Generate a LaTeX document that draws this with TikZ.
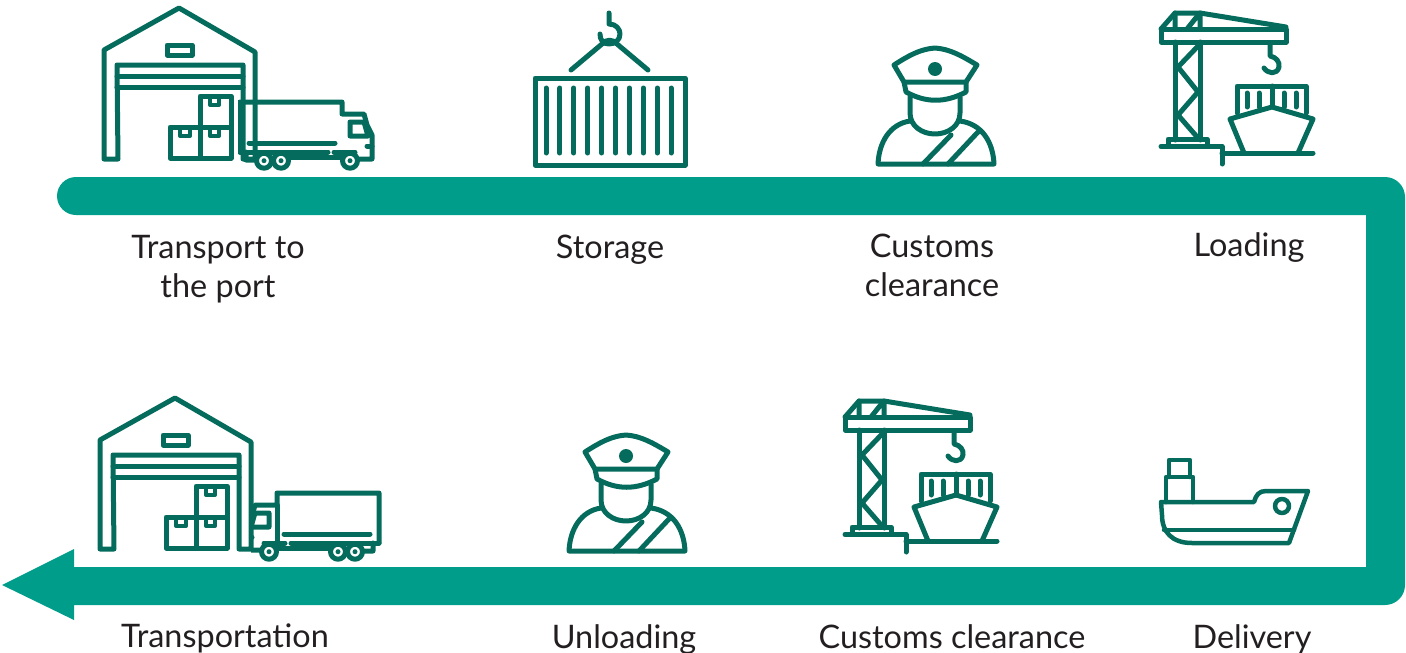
\documentclass[tikz,border=0pt]{standalone}
\usepackage{fontspec}
\setmainfont{Lato}
\definecolor{bandgreen}{HTML}{009E8A}
\definecolor{icongreen}{HTML}{056B5C}
\definecolor{labelgray}{HTML}{231F20}
\tikzset{
  label/.style={text=labelgray,font=\fontsize{32.4}{39}\selectfont,align=center,inner sep=0pt},
  icon/.style={draw=icongreen,line width=5pt,line join=round,line cap=round},
  housepic/.pic={
    \draw[icon] (118,159) -- (104,159) -- (104,50) -- (179,8) -- (255,52) -- (255,159) -- (243,159) -- (243,65) -- (117,65) -- cycle;
    \draw[icon] (117,76) -- (243,76) (117,87) -- (243,87);
    \draw[icon] (167,45) rectangle (192,55);
    \draw[icon] (170,127) rectangle (200,158);
    \draw[icon] (200,127) rectangle (231,158);
    \draw[icon] (200,96) rectangle (231,127);
    \draw[icon,line width=4pt] (180,127) -- (180,136) -- (190,136) -- (190,127);
    \draw[icon,line width=4pt] (210,127) -- (210,136) -- (219,136) -- (219,127);
    \draw[icon,line width=4pt] (210,96) -- (210,105) -- (219,105) -- (219,96);
  },
  truckpic/.pic={
    \draw[icon] (246,152) -- (246,160) -- (255,160) (240,152) -- (240,102) -- (342,102) -- (342,114) -- (364,114) -- (367,125) -- (372,135) -- (372,159) -- (360,159);
    \draw[icon] (350,122) -- (364,122) -- (368,136) -- (350,136) -- cycle;
    \draw[icon] (249,143) -- (335,143) (240,152) -- (328,152) (334,152) -- (355,152) (290,157) -- (342,157) (367,146) -- (372,146);
    \foreach \wheelx in {264,281,350} {
      \draw[icon] (\wheelx,160.7) circle [radius=7.5];
      \fill[icongreen] (\wheelx,160.7) circle [radius=2.5];
    }
  },
  containerpic/.pic={
    \draw[icon] (535,78) rectangle (685,165);
    \foreach \ribx in {0,...,9}
      \draw[icon] (546+13.9*\ribx,88) -- (546+13.9*\ribx,153);
    \draw[icon] (609,13) -- (609,24) .. controls (616,24) and (620,29) .. (620,34) .. controls (620,40) and (615,44) .. (609,44) .. controls (603,44) and (600,40) .. (600,34);
    \draw[icon] (571,70) -- (602,44) .. controls (606,39) and (613,39) .. (617,44) -- (648,70);
  },
  officerpic/.pic={
    \draw[icon] (894,65) .. controls (908,56) and (920,49) .. (935,48) .. controls (950,49) and (962,56) .. (977,65) -- (966,82) -- (904,82) -- cycle;
    \draw[icon] (904,82) -- (906,92) .. controls (926,103) and (945,103) .. (966,92) -- (966,82);
    \fill[icongreen] (935,69) circle [radius=7];
    \draw[icon] (910,97) -- (910,113) .. controls (910,126) and (922,134) .. (935,134) .. controls (948,134) and (960,126) .. (960,113) -- (960,97);
    \draw[icon] (910,121) .. controls (890,124) and (879,142) .. (878,164) -- (994,164) .. controls (993,142) and (982,124) .. (960,121);
    \draw[icon] (923,164) -- (951,135) (948,164) -- (978,132);
  },
  cranepic/.pic={
    \draw[icon] (1161,29) rectangle (1286,42);
    \draw[icon] (1161,29) -- (1175,13) -- (1200,13) -- (1286,27);
    \draw[icon] (1175,13) -- (1175,29) (1200,13) -- (1200,29) (1187,29) -- (1199,14);
    \draw[icon] (1175,42) -- (1175,140) (1200,42) -- (1200,140);
    \draw[icon] (1199,45) -- (1178,67) -- (1198,92) -- (1178,115) -- (1198,138);
    \draw[icon] (1168,146) -- (1168,139) -- (1207,139) -- (1207,146);
    \draw[icon] (1161,146.5) -- (1222,146.5) -- (1222,164) (1222,153) -- (1313,153);
    \draw[icon] (1270,45) -- (1270,56) .. controls (1276,57) and (1280,62) .. (1279,67) .. controls (1277,75) and (1268,74) .. (1264,68);
    \draw[icon] (1237,113) -- (1237,86) -- (1306,86) -- (1306,113);
    \draw[icon] (1272,86) -- (1272,107);
    \foreach \ribx in {1247,1259,1284,1296}
      \draw[icon] (\ribx,93) -- (\ribx,107);
    \draw[icon] (1244,153) -- (1230,119) -- (1272,107) -- (1313,119) -- (1298,153);
  },
  shippic/.pic={
    \draw[icon,line width=4.5pt] (1169,477) -- (1169,460) -- (1190,460) -- (1190,477);
    \draw[icon,line width=4.5pt] (1166,502) -- (1166,477) -- (1193,477) -- (1193,502);
    \draw[icon,line width=4.5pt] (1161,502) -- (1254,502) .. controls (1256,495) and (1259,491) .. (1266,491) -- (1308,491) -- (1289,543) -- (1192,543) .. controls (1172,543) and (1162,532) .. (1162,515) -- cycle;
    \draw[icon,line width=4.5pt] (1164,530) -- (1294,530);
    \draw[icon,line width=4.5pt] (1282,506) circle [radius=7];
  },
}
\begin{document}
\begin{tikzpicture}[x=1pt,y=-1pt]
      \useasboundingbox (0,0) rectangle (1406,653);
      \fill[bandgreen] (74,549) -- (2,585) -- (74,620) -- (74,605) [rounded corners=20pt] -- (1405,605) -- (1405,177) [rounded corners=19pt] -- (57,177) -- (57,215) [sharp corners] -- (1366,215) -- (1366,567) -- (74,567) -- cycle;

      \begin{scope}
        \clip (238,90) rectangle (380,175);
        \pic {truckpic};
      \end{scope}
      \pic {housepic};
      \pic {containerpic};
      \pic {officerpic};
      \pic {cranepic};

      \begin{scope}
        \clip (251,480) rectangle (385,565);
        \pic[xscale=-1] at (619,391) {truckpic};
        \draw[icon] (277,505) -- (277,541);
      \end{scope}
      \pic at (-4,390) {housepic};
      \pic at (-309,387) {officerpic};
      \pic at (-316,388) {cranepic};
      \pic {shippic};

      \node[label] (transport) at (218,269.5) {Transport to\\the port};
      \node[label] (storage) at (610,249.5) {Storage};
      \node[label] (customs) at (932,265) {Customs\\clearance};
      \node[label] (loading) at (1249,248) {Loading};
      \node[label] (transportation) at (225,638) {Transportation};
      \node[label] (unloading) at (624,639.5) {Unloading};
      \node[label] (clearance) at (952,637) {Customs clearance};
      \node[label] (delivery) at (1252,639) {Delivery};
\end{tikzpicture}
\end{document}
